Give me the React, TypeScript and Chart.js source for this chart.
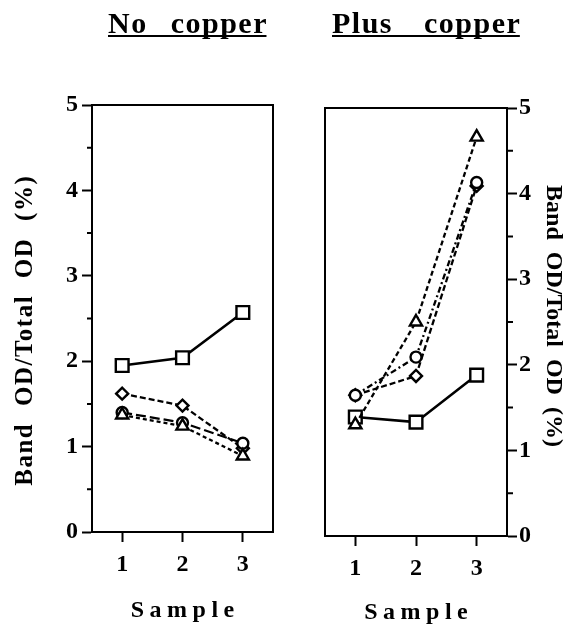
import { useEffect, useRef } from 'react';
import { Chart, registerables } from 'chart.js';

Chart.register(...registerables);

const FONT = "'Liberation Serif', 'Times New Roman', serif";

// ---- data ----
const samples = [1, 2, 3];
const xTickValues = [1, 2, 3];
const yMinorTickValues = [0.5, 1.5, 2.5, 3.5, 4.5];

const noCopperSquare = [1.95, 2.04, 2.57];
const noCopperDiamond = [1.62, 1.48, 0.98];
const noCopperCircle = [1.4, 1.28, 1.04];
const noCopperTriangle = [1.37, 1.24, 0.89];

const plusCopperSquare = [1.39, 1.33, 1.88];
const plusCopperDiamond = [1.645, 1.87, 4.09];
const plusCopperCircle = [1.645, 2.09, 4.13];
const plusCopperTriangle = [1.3, 2.5, 4.66];

const panelTitles = ['No copper', 'Plus copper'];
const yTitle = 'Band OD/Total OD (%)';
const xTitle = 'Sample';

function series(values: number[], style: string, dash: number[], radius: number, width: number) {
  return {
    data: samples.map((x, i) => ({ x, y: values[i] })),
    borderColor: '#000',
    borderWidth: width,
    borderDash: dash,
    pointStyle: style,
    pointRadius: radius,
    pointHoverRadius: radius,
    pointBackgroundColor: '#fff',
    pointBorderColor: '#000',
    pointBorderWidth: 2.4,
    fill: false,
    tension: 0,
  };
}

function spacedWidth(ctx: CanvasRenderingContext2D, text: string, ls: number) {
  return ctx.measureText(text).width - ls;
}

const panelDecor = {
  id: 'panelDecor',
  afterDraw(chart: any, _args: any, opts: any) {
    const { ctx, chartArea: a } = chart;
    const ys = chart.scales.y;
    ctx.save();
    ctx.strokeStyle = '#000';
    ctx.fillStyle = '#000';
    ctx.lineWidth = 2;
    // frame
    ctx.strokeRect(a.left, a.top, a.right - a.left, a.bottom - a.top);
    // minor ticks
    ctx.beginPath();
    for (const v of yMinorTickValues) {
      const py = ys.getPixelForValue(v);
      if (opts.side === 'left') {
        ctx.moveTo(a.left - 5, py);
        ctx.lineTo(a.left, py);
      } else {
        ctx.moveTo(a.right, py);
        ctx.lineTo(a.right + 6, py);
      }
    }
    ctx.stroke();

    // panel title with underline
    const t = opts.title;
    ctx.font = `bold ${t.size}px ${FONT}`;
    (ctx as any).letterSpacing = `${t.ls}px`;
    (ctx as any).wordSpacing = `${t.ws}px`;
    ctx.textAlign = 'left';
    ctx.textBaseline = 'alphabetic';
    ctx.fillText(t.text, t.x, t.y);
    const tw = spacedWidth(ctx, t.text, t.ls);
    ctx.fillRect(t.x, t.y + 2, tw, 2);

    // x title
    const xt = opts.xTitle;
    ctx.font = `bold ${xt.size}px ${FONT}`;
    (ctx as any).letterSpacing = `${xt.ls}px`;
    (ctx as any).wordSpacing = '0px';
    ctx.textBaseline = 'middle';
    const xw = spacedWidth(ctx, xt.text, xt.ls);
    const cx = (a.left + a.right) / 2;
    ctx.fillText(xt.text, cx - xw / 2, xt.cy);

    // y title
    const yt = opts.yTitle;
    ctx.font = `bold ${yt.size}px ${FONT}`;
    (ctx as any).letterSpacing = `${yt.ls}px`;
    (ctx as any).wordSpacing = `${yt.ws}px`;
    ctx.textBaseline = 'alphabetic';
    const yw = spacedWidth(ctx, yt.text, yt.ls);
    ctx.translate(yt.x, yt.cy);
    ctx.rotate(opts.side === 'left' ? -Math.PI / 2 : Math.PI / 2);
    ctx.fillText(yt.text, -yw / 2, 0);
    ctx.restore();
  },
};

function buildConfig(side: 'left' | 'right', datasets: any[], decor: any, pad: any, yWidth: number, xHeight: number) {
  const tickFont = { family: FONT, size: 24, weight: 'bold' as const };
  return {
    type: 'line' as const,
    data: { datasets },
    plugins: [panelDecor],
    options: {
      animation: false as const,
      responsive: false,
      events: [],
      layout: { padding: pad },
      plugins: {
        legend: { display: false },
        tooltip: { enabled: false },
        panelDecor: { side, ...decor },
      },
      scales: {
        x: {
          type: 'linear' as const,
          min: 0.5,
          max: 3.5,
          afterBuildTicks: (s: any) => {
            s.ticks = xTickValues.map((v) => ({ value: v }));
          },
          afterFit: (s: any) => {
            s.height = xHeight;
          },
          ticks: { font: tickFont, color: '#000', padding: 8, callback: (v: any) => String(v) },
          grid: { drawOnChartArea: false, drawTicks: true, tickLength: 10, tickWidth: 2, tickColor: '#000' },
          border: { display: true, color: '#000', width: 2 },
        },
        y: {
          type: 'linear' as const,
          position: side,
          min: 0,
          max: 5,
          afterFit: (s: any) => {
            s.width = yWidth;
          },
          ticks: { stepSize: 1, font: tickFont, color: '#000', padding: side === 'left' ? 4 : 2 },
          grid: { drawOnChartArea: false, drawTicks: true, tickLength: 10, tickWidth: 2, tickColor: '#000' },
          border: { display: true, color: '#000', width: 2 },
        },
      },
    },
  };
}

function Panel(props: { width: number; left: number; config: any }) {
  const ref = useRef<HTMLCanvasElement>(null);
  useEffect(() => {
    if (!ref.current) return;
    const chart = new Chart(ref.current, props.config);
    return () => chart.destroy();
  }, []);
  return (
    <canvas
      ref={ref}
      width={props.width}
      height={626}
      style={{ position: 'absolute', left: props.left, top: 0, width: props.width, height: 626, display: 'block' }}
    />
  );
}

export default function App() {
  const leftConfig = buildConfig(
    'left',
    [
      series(noCopperTriangle, 'triangle', [4, 3], 7, 2.3),
      series(noCopperCircle, 'circle', [10, 4], 5.5, 2.3),
      series(noCopperDiamond, 'rectRot', [6, 3], 6, 2.3),
      series(noCopperSquare, 'rect', [], 9, 2.6),
    ],
    {
      title: { text: panelTitles[0], x: 108, y: 33, size: 30, ls: 1.5, ws: 14 },
      xTitle: { text: xTitle, cy: 611, size: 24, ls: 5.5 },
      yTitle: { text: yTitle, x: 32, cy: 331, size: 25, ls: 1.5, ws: 9 },
    },
    { left: 0, right: 17, top: 105, bottom: 0 },
    92,
    94
  );
  const rightConfig = buildConfig(
    'right',
    [
      series(plusCopperTriangle, 'triangle', [5, 3], 7, 2.3),
      series(plusCopperCircle, 'circle', [6, 3, 2, 3], 5.5, 2.3),
      series(plusCopperDiamond, 'rectRot', [6, 3], 6, 2.3),
      series(plusCopperSquare, 'rect', [], 9, 2.6),
    ],
    {
      title: { text: panelTitles[1], x: 42, y: 33, size: 30, ls: 1.5, ws: 22 },
      xTitle: { text: xTitle, cy: 613, size: 24, ls: 5.5 },
      yTitle: { text: yTitle, x: 257, cy: 316, size: 24, ls: 0, ws: 6 },
    },
    { left: 35, right: 0, top: 108, bottom: 0 },
    74,
    90
  );
  return (
    <div style={{ position: 'fixed', left: 0, top: 0, width: 581, height: 626, background: '#fff', overflow: 'hidden' }}>
      <Panel width={290} left={0} config={leftConfig} />
      <Panel width={291} left={290} config={rightConfig} />
    </div>
  );
}
